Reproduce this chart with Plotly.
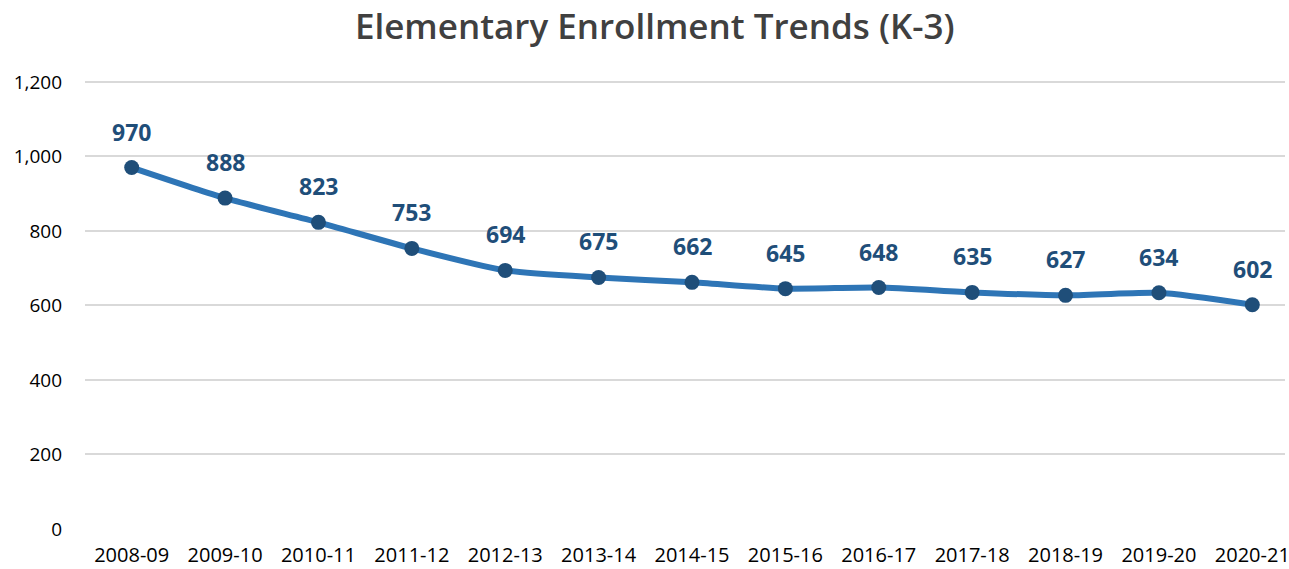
import plotly.graph_objects as go

years = ["2008-09", "2009-10", "2010-11", "2011-12", "2012-13", "2013-14", "2014-15",
         "2015-16", "2016-17", "2017-18", "2018-19", "2019-20", "2020-21"]
enrollment = [970, 888, 823, 753, 694, 675, 662, 645, 648, 635, 627, 634, 602]
y_ticks = [0, 200, 400, 600, 800, 1000, 1200]
y_tick_labels = ["0", "200", "400", "600", "800", "1,000", "1,200"]

fig = go.Figure()
fig.add_trace(go.Scatter(
    x=years, y=enrollment, mode="lines+markers",
    line=dict(color="#2E75B6", width=6, shape="spline", smoothing=0.6),
    marker=dict(color="#1F4E79", size=15),
    hoverinfo="x+y", showlegend=False,
))

for yr, v in zip(years, enrollment):
    fig.add_annotation(x=yr, y=v, text=f"<b>{v}</b>", showarrow=False,
                       yshift=36, font=dict(family="Open Sans", size=23, color="#1F4E79"))

fig.update_layout(
    width=1289, height=569,
    paper_bgcolor="white", plot_bgcolor="white",
    margin=dict(l=85, r=4, t=80, b=40),
    title=dict(text="Elementary Enrollment Trends (K-3)", x=0.508, xanchor="center",
               y=0.953, yanchor="middle",
               font=dict(family="Open Sans", size=35, color="#404040", weight=600)),
    font=dict(family="Open Sans", color="#000000"),
)
fig.update_xaxes(type="category", range=[-0.5, 12.35], showgrid=False, showline=False,
                 zeroline=False, tickfont=dict(size=20, color="#000000"), ticks="",
                 ticklabelstandoff=12, automargin=False, fixedrange=True)
fig.update_yaxes(range=[0, 1205], tickvals=y_ticks, ticktext=y_tick_labels,
                 showgrid=True, gridcolor="#D9D9D9", gridwidth=1.5, zeroline=False,
                 showline=False, tickfont=dict(size=19, color="#000000"), ticks="",
                 ticklabelstandoff=22, automargin=False, fixedrange=True)

fig.write_html(
    "out.html",
    config={"displayModeBar": False},
    post_script="document.body.style.margin='0';document.body.style.overflow='hidden';",
)
